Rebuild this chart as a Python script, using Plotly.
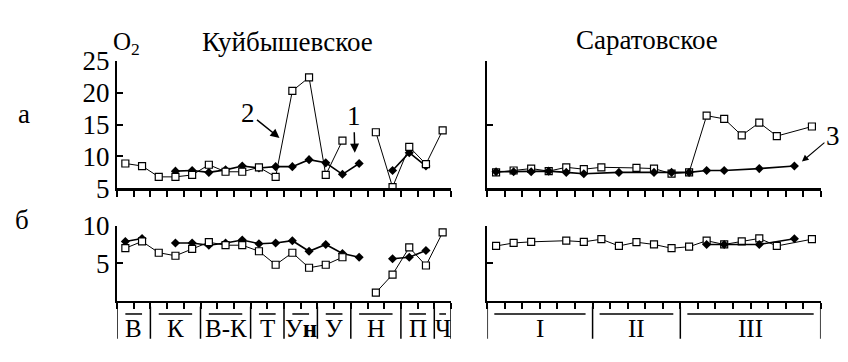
import plotly.graph_objects as go

# ---------------- data ----------------
groups_left = ["В", "К", "В-К", "Т", "У<b>н</b>", "У", "Н", "П", "Ч"]
counts_left = [2, 3, 3, 2, 2, 2, 3, 2, 1]
groups_right = ["I", "II", "III"]
counts_right = [6, 5, 8]

# Kuibyshev, panel a (O2)
kuib_a_sq = [8.9, 8.5, 6.8, 6.8, 7.1, 8.7, 7.6, 7.6, 8.3, 6.8, 20.3, 22.4, 7.1, 12.5, None, 13.8, 5.2, 11.5, 8.8, 14.1]
kuib_a_dm = [None, None, None, 7.7, 7.8, 7.5, 7.9, 8.5, 8.2, 8.4, 8.4, 9.5, 9.0, 7.2, 8.9, None, 7.8, 10.6, 8.5, None]
# Kuibyshev, panel б
kuib_b_sq = [7.0, 7.9, 6.4, 6.0, 6.9, 7.8, 7.4, 7.4, 6.6, 4.8, 6.4, 4.4, 4.8, 5.8, None, 1.1, 3.5, 7.1, 4.7, 9.1]
kuib_b_dm = [7.9, 8.3, None, 7.7, 7.7, 7.4, 7.7, 8.1, 7.6, 7.7, 8.0, 6.6, 7.5, 6.3, 5.8, None, 5.6, 5.8, 6.7, None]
# Saratov, panel a
sar_a_sq = [7.5, 7.8, 8.1, 7.7, 8.3, 8.0, 8.3, None, 8.2, 8.1, 7.3, 7.5, 16.4, 15.9, 13.3, 15.3, 13.2, None, 14.7]
sar_a_dm = [7.6, 7.6, 7.6, 7.7, 7.5, 7.3, None, 7.5, None, 7.5, 7.5, 7.5, 7.8, 7.8, None, 8.1, None, 8.5, None]
# Saratov, panel б
sar_b_sq = [7.3, 7.7, 7.85, None, 8.0, 7.85, 8.2, 7.3, 7.8, 7.5, 7.0, 7.2, 8.0, 7.5, 7.9, 8.3, 7.3, None, 8.2]
sar_b_dm = [None] * 12 + [7.5, 7.5, None, 7.5, None, 8.25, None]

yticks_a = [5, 10, 15, 20, 25]
yticks_b = [5, 10]

# ---------------- style ----------------
FONT = "Liberation Serif, Times New Roman, serif"
W, H = 848, 362
nL, nR = sum(counts_left), sum(counts_right)


def sq_trace(vals, xa, ya, gaps):
    return go.Scatter(x=list(range(len(vals))), y=vals, xaxis=xa, yaxis=ya,
                      mode="lines+markers", connectgaps=gaps,
                      line=dict(color="black", width=1),
                      marker=dict(symbol="square", size=7, color="white",
                                  line=dict(color="black", width=1.2)),
                      showlegend=False, hoverinfo="skip")


def dm_trace(vals, xa, ya, gaps):
    return go.Scatter(x=list(range(len(vals))), y=vals, xaxis=xa, yaxis=ya,
                      mode="lines+markers", connectgaps=gaps,
                      line=dict(color="black", width=1.6),
                      marker=dict(symbol="diamond", size=7, color="black"),
                      showlegend=False, hoverinfo="skip")


fig = go.Figure()
# left panels: squares on top
fig.add_trace(dm_trace(kuib_a_dm, "x", "y", False))
fig.add_trace(sq_trace(kuib_a_sq, "x", "y", False))
fig.add_trace(dm_trace(kuib_b_dm, "x2", "y2", False))
fig.add_trace(sq_trace(kuib_b_sq, "x2", "y2", False))
# right panels: diamonds on top
fig.add_trace(sq_trace(sar_a_sq, "x3", "y3", True))
fig.add_trace(dm_trace(sar_a_dm, "x3", "y3", True))
fig.add_trace(sq_trace(sar_b_sq, "x4", "y4", True))
fig.add_trace(dm_trace(sar_b_dm, "x4", "y4", True))

xL = [117 / W, 451 / W]
xR = [487.3 / W, 820.7 / W]
yA = [1 - 189 / H, 1 - 50 / H]
yB = [1 - 311.7 / H, 1 - 229.7 / H]


def xax(domain, anchor, n):
    return dict(domain=domain, anchor=anchor, range=[-0.5, n - 0.5],
                showline=True, linecolor="black", linewidth=2.2,
                ticks="outside", ticklen=6, tickwidth=2, tickcolor="black",
                tick0=-0.5, dtick=1, showticklabels=False,
                showgrid=False, zeroline=False, fixedrange=True)


def yax(domain, anchor, rng, tickvals, labels):
    return dict(domain=domain, anchor=anchor, range=rng,
                showline=True, linecolor="black", linewidth=2.2,
                ticks="inside", ticklen=6, tickwidth=2, tickcolor="black",
                tickvals=tickvals, showticklabels=labels,
                tickfont=dict(family=FONT, size=27, color="black"),
                showgrid=False, zeroline=False, fixedrange=True)


fig.update_layout(
    width=W, height=H, margin=dict(l=0, r=0, t=0, b=0),
    paper_bgcolor="white", plot_bgcolor="white",
    font=dict(family=FONT, color="black"),
    xaxis=xax(xL, "y", nL), yaxis=yax(yA, "x", [5, 25], yticks_a, True),
    xaxis2=xax(xL, "y2", nL), yaxis2=yax(yB, "x2", [0, 10], yticks_b, True),
    xaxis3=xax(xR, "y3", nR), yaxis3=yax(yA, "x3", [5, 25], [5, 15, 25], False),
    xaxis4=xax(xR, "y4", nR), yaxis4=yax(yB, "x4", [0, 10], yticks_b, False),
)

ann = []
shapes = []


def txt(text, x, y, size=24, xref="paper", yref="paper"):
    ann.append(dict(text=text, x=x, y=y, xref=xref, yref=yref, showarrow=False,
                    font=dict(family=FONT, size=size, color="black"),
                    xanchor="center", yanchor="middle"))


txt("Куйбышевское", 287 / W, 1 - 29 / H, size=27)
txt("Саратовское", 647 / W, 1 - 27 / H, size=27)
txt("O<sub>2</sub>", 126 / W, 1 - 31 / H, size=25)
txt("а", 24 / W, 1 - 108 / H, size=27)
txt("б", 22 / W, 1 - 224 / H, size=27)

# group labels with overlines and separators
y_lab = 1 - 341.5 / H
y_over = 1 - 326 / H
y_sep0, y_sep1 = 1 - 353 / H, 1 - 318 / H


def group_axis(groups, counts, xref, inset_many, inset_one):
    start = -0.5
    shapes.append(dict(type="line", xref=xref, yref="paper", x0=start, x1=start,
                       y0=y_sep0, y1=y_sep1, line=dict(color="black", width=1.5)))
    for g, c in zip(groups, counts):
        end = start + c
        txt(g, (start + end) / 2, y_lab, size=25, xref=xref)
        ins = inset_many if c > 1 else inset_one
        shapes.append(dict(type="line", xref=xref, yref="paper", x0=start + ins, x1=end - ins,
                           y0=y_over, y1=y_over, line=dict(color="black", width=1.5)))
        shapes.append(dict(type="line", xref=xref, yref="paper", x0=end, x1=end,
                           y0=y_sep0, y1=y_sep1, line=dict(color="black", width=1.5)))
        start = end


group_axis(groups_left, counts_left, "x2", 0.5, 0.3)
group_axis(groups_right, counts_right, "x4", 0.4, 0.3)


# arrows with numbers
def arrow(text, x, y, ax, ay, xref, yref, width=1.5):
    ann.append(dict(text=text, x=x, y=y, xref=xref, yref=yref, ax=ax, ay=ay,
                    showarrow=True, arrowhead=2, arrowsize=1.2, arrowwidth=width,
                    arrowcolor="black", standoff=0,
                    font=dict(family=FONT, size=27, color="black")))


arrow("2", 9.23, 12.9, -31, -25, "x", "y")
arrow("1", 13.74, 10.6, -1, -37, "x", "y")
arrow("3", 17.43, 9.2, 31, -26, "x3", "y3", width=1.1)

fig.update_layout(annotations=ann, shapes=shapes)
fig.write_html("out.html", config={"displayModeBar": False, "staticPlot": True},
               post_script="document.body.style.margin='0px';document.body.style.padding='0px';")
